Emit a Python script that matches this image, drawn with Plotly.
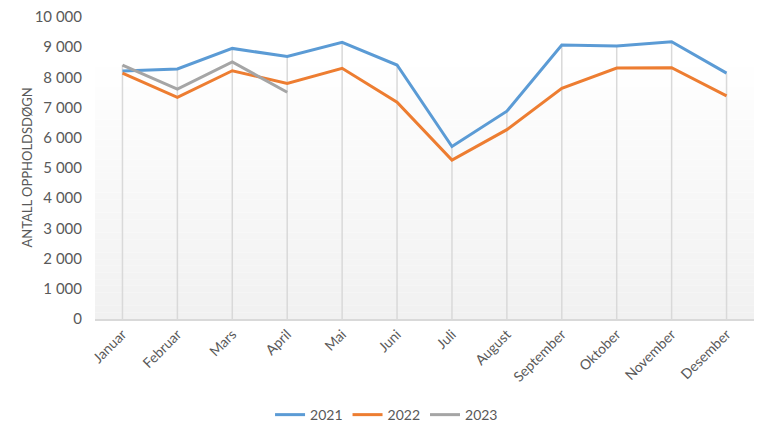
import plotly.graph_objects as go

months = ["Januar", "Februar", "Mars", "April", "Mai", "Juni", "Juli", "August",
          "September", "Oktober", "November", "Desember"]
y2021 = [8210, 8280, 8960, 8690, 9160, 8410, 5710, 6880, 9070, 9040, 9180, 8140]
y2022 = [8140, 7340, 8220, 7800, 8300, 7180, 5260, 6270, 7640, 8310, 8320, 7390]
y2023 = [8410, 7610, 8510, 7510]
y_ticks = [0, 1000, 2000, 3000, 4000, 5000, 6000, 7000, 8000, 9000, 10000]

font_family = "Lato, 'Open Sans', sans-serif"
txt = "#595959"

fig = go.Figure()

# background gradient stripes (white at top -> light gray at bottom)
n = 40
top_val = 8800
for i in range(n):
    y0 = top_val * i / n
    y1 = top_val * (i + 1) / n
    t = i / (n - 1)
    c = int(round(241 + (255 - 241) * t))
    fig.add_shape(type="rect", xref="x domain", yref="y", x0=0, x1=1, y0=y0, y1=y1,
                  fillcolor=f"rgb({c},{c},{c})", line=dict(width=0), layer="below")

# drop lines from highest point to axis
dx, dy = [], []
for i, m in enumerate(months):
    vals = [y2021[i], y2022[i]] + ([y2023[i]] if i < len(y2023) else [])
    dx += [m, m, None]
    dy += [0, max(vals), None]
fig.add_trace(go.Scatter(x=dx, y=dy, mode="lines", line=dict(color="#d9d9d9", width=1.5),
                         showlegend=False, hoverinfo="skip"))

fig.add_trace(go.Scatter(x=months, y=y2021, name="2021", mode="lines",
                         line=dict(color="#5b9bd5", width=3)))
fig.add_trace(go.Scatter(x=months, y=y2022, name="2022", mode="lines",
                         line=dict(color="#ed7d31", width=3)))
fig.add_trace(go.Scatter(x=months[:len(y2023)], y=y2023, name="2023", mode="lines",
                         line=dict(color="#a5a5a5", width=3)))

fig.update_layout(
    width=768, height=431,
    margin=dict(l=86.5, r=21.5, t=9, b=120, autoexpand=False),
    paper_bgcolor="white", plot_bgcolor="white",
    separators=", ",
    font=dict(family=font_family, size=13, color=txt),
    legend=dict(orientation="h", x=0.4424, xanchor="center",
                y=-0.318, yanchor="middle",
                font=dict(size=14, color=txt), itemwidth=30, tracegroupgap=0),
    xaxis=dict(type="category", categoryorder="array", categoryarray=months,
               range=[-0.5, 11.5], showgrid=False, tickangle=-45, ticks="",
               showline=True, linecolor="#d9d9d9", linewidth=1.5, automargin=False,
               tickfont=dict(size=14, color=txt), zeroline=False),
    yaxis=dict(range=[0, 10000], tickvals=y_ticks, tickformat=",d", showgrid=False,
               zeroline=False, showline=False, ticklabelstandoff=12, automargin=False,
               ticklabeloverflow="allow",
               tickfont=dict(size=15, color=txt)),
    annotations=[dict(text="ANTALL OPPHOLDSDØGN", xref="paper", yref="paper",
                      x=0, y=0.5, xanchor="center", yanchor="middle", xshift=-68.5,
                      textangle=-90, showarrow=False, font=dict(size=13, color=txt))],
)

fig.write_html("out.html")
